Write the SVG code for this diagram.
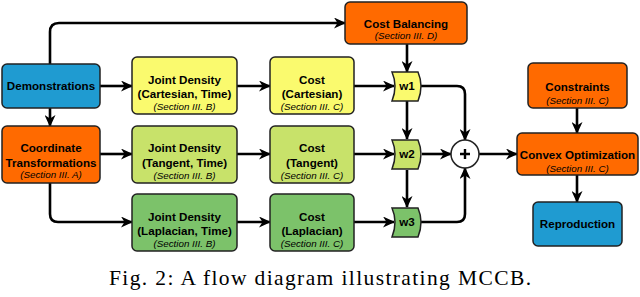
<svg xmlns="http://www.w3.org/2000/svg" width="640" height="297" viewBox="0 0 640 297">
<defs>
<style>
.box{stroke:#222;stroke-width:1.5}
.blue{fill:#1F9BD1}
.orange{fill:#FF6A00}
.yellow{fill:#FAFA6E}
.lgreen{fill:#C8E26A}
.green{fill:#7CC26A}
.t{font-family:"Liberation Sans",Arial,sans-serif;font-weight:bold;font-size:11.6px;fill:#000;text-anchor:middle}
.s{font-family:"Liberation Sans",Arial,sans-serif;font-style:italic;font-size:9.8px;fill:#000;text-anchor:middle}
.c{fill:none;stroke:#000;stroke-width:2.6;marker-end:url(#ah)}
.cap{font-family:"Liberation Serif","Times New Roman",serif;font-size:21.5px;fill:#000}
</style>
<marker id="ah" markerUnits="userSpaceOnUse" markerWidth="12" markerHeight="11" refX="11" refY="5.5" orient="auto">
<path d="M0,0 L12,5.5 L0,11 L3.5,5.5 z" fill="#000"/>
</marker>
</defs>

<g id="connectors">
<path class="c" d="M50,64 V32 Q50,23 59,23 H345"/>
<path class="c" d="M100,86 H132"/>
<path class="c" d="M50,108 V126"/>
<path class="c" d="M100,154 H132"/>
<path class="c" d="M50,183 V214 Q50,222 58,222 H132"/>
<path class="c" d="M237,86 H270"/>
<path class="c" d="M237,154 H270"/>
<path class="c" d="M237,222 H270"/>
<path class="c" d="M354,86 H394"/>
<path class="c" d="M354,154 H394"/>
<path class="c" d="M354,222 H394"/>
<path class="c" d="M407,44 V72"/>
<path class="c" d="M407,101 V139"/>
<path class="c" d="M407,170 V207"/>
<path class="c" d="M421,86 H457 Q465,86 465,94 V140"/>
<path class="c" d="M422,154 H451"/>
<path class="c" d="M421,222 H457 Q465,222 465,214 V168"/>
<path class="c" d="M479,154 H517"/>
<path class="c" d="M577,108 V133"/>
<path class="c" d="M577,175 V202"/>
</g>

<g id="demonstrations">
<rect class="box blue" x="2" y="64" width="98" height="44" rx="5"/>
<text class="t" x="51" y="90">Demonstrations</text>
</g>

<g id="coordinate-transformations">
<rect class="box orange" x="2" y="126" width="98" height="57" rx="5"/>
<text class="t" x="51" y="152">Coordinate</text>
<text class="t" x="51" y="167">Transformations</text>
<text class="s" x="51" y="178">(Section III. A)</text>
</g>

<g id="jd-cartesian">
<rect class="box yellow" x="132" y="57" width="105" height="57" rx="5"/>
<text class="t" x="184.5" y="84">Joint Density</text>
<text class="t" x="184.5" y="98">(Cartesian, Time)</text>
<text class="s" x="184.5" y="110">(Section III. B)</text>
</g>

<g id="jd-tangent">
<rect class="box lgreen" x="132" y="126" width="105" height="57" rx="5"/>
<text class="t" x="184.5" y="152">Joint Density</text>
<text class="t" x="184.5" y="167">(Tangent, Time)</text>
<text class="s" x="184.5" y="179">(Section III. B)</text>
</g>

<g id="jd-laplacian">
<rect class="box green" x="132" y="194" width="105" height="57" rx="5"/>
<text class="t" x="184.5" y="221">Joint Density</text>
<text class="t" x="184.5" y="235">(Laplacian, Time)</text>
<text class="s" x="184.5" y="247">(Section III. B)</text>
</g>

<g id="cost-cartesian">
<rect class="box yellow" x="270" y="57" width="84" height="57" rx="5"/>
<text class="t" x="312" y="84">Cost</text>
<text class="t" x="312" y="98">(Cartesian)</text>
<text class="s" x="312" y="110">(Section III. C)</text>
</g>

<g id="cost-tangent">
<rect class="box lgreen" x="270" y="126" width="84" height="57" rx="5"/>
<text class="t" x="312" y="152">Cost</text>
<text class="t" x="312" y="167">(Tangent)</text>
<text class="s" x="312" y="179">(Section III. C)</text>
</g>

<g id="cost-laplacian">
<rect class="box green" x="270" y="194" width="84" height="57" rx="5"/>
<text class="t" x="312" y="221">Cost</text>
<text class="t" x="312" y="235">(Laplacian)</text>
<text class="s" x="312" y="247">(Section III. C)</text>
</g>

<g id="cost-balancing">
<rect class="box orange" x="345" y="2" width="122" height="42" rx="5"/>
<text class="t" x="406" y="28">Cost Balancing</text>
<text class="s" x="406" y="39">(Section III. D)</text>
</g>

<g id="w1">
<path class="box yellow" d="M392,72 H418 Q424,86 418,101 H392 Q398,86 392,72 z"/>
<text class="t" x="407" y="90">w1</text>
</g>

<g id="w2">
<path class="box lgreen" d="M392,140 H418 Q424,154 418,169 H392 Q398,154 392,140 z"/>
<text class="t" x="407" y="158">w2</text>
</g>

<g id="w3">
<path class="box green" d="M392,208 H418 Q424,222 418,237 H392 Q398,222 392,208 z"/>
<text class="t" x="407" y="226">w3</text>
</g>

<g id="sum">
<circle cx="465" cy="154" r="14" fill="#fff" stroke="#222" stroke-width="1.5"/>
<path d="M460,154 H470 M465,149 V159" stroke="#000" stroke-width="2.4"/>
</g>

<g id="constraints">
<rect class="box orange" x="528" y="63" width="99" height="45" rx="5"/>
<text class="t" x="577.5" y="91">Constraints</text>
<text class="s" x="577.5" y="104">(Section III. C)</text>
</g>

<g id="convex-optimization">
<rect class="box orange" x="517" y="133" width="121" height="42" rx="5"/>
<text class="t" x="577.5" y="159">Convex Optimization</text>
<text class="s" x="577.5" y="172">(Section III. C)</text>
</g>

<g id="reproduction">
<rect class="box blue" x="533" y="202" width="89" height="44" rx="5"/>
<text class="t" x="577.5" y="228">Reproduction</text>
</g>

<text class="cap" x="109" y="285" textLength="422" lengthAdjust="spacing">Fig. 2: A flow diagram illustrating MCCB.</text>
</svg>
